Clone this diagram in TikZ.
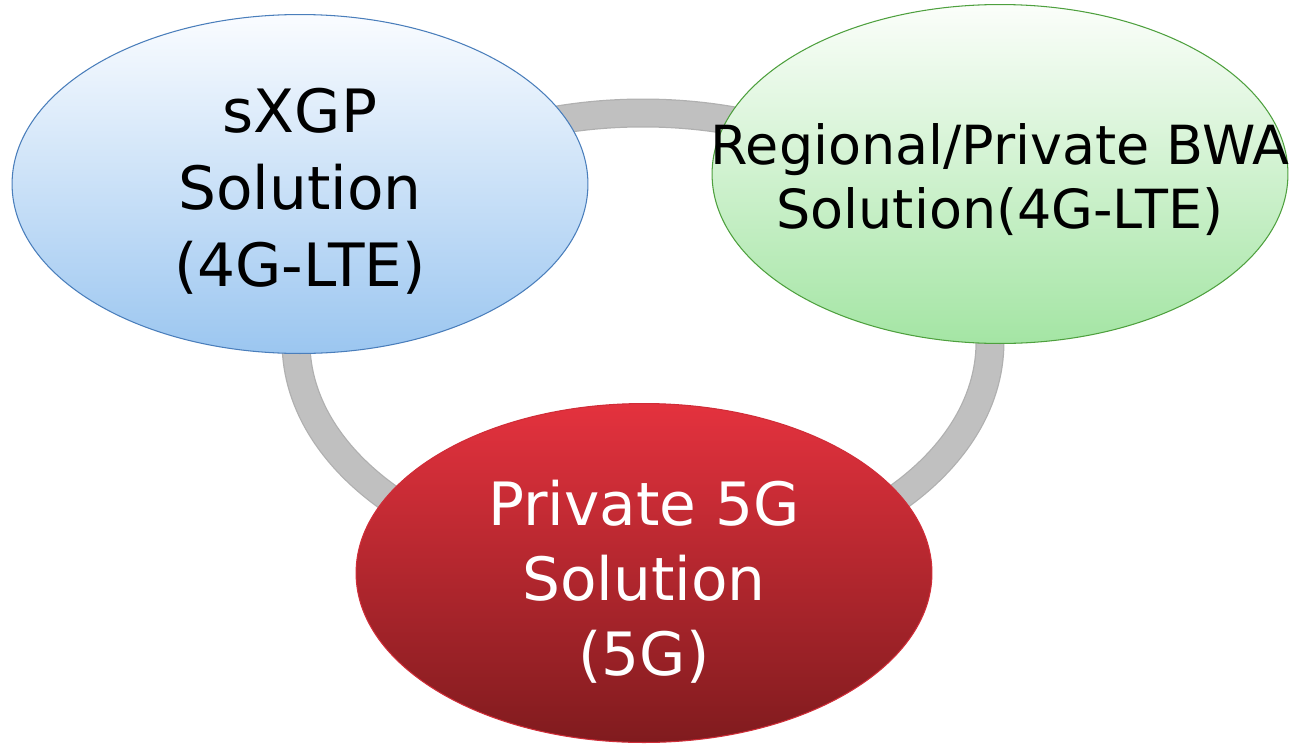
\documentclass[tikz,border=0pt]{standalone}
\usepackage{fontspec}
\setmainfont{DejaVu Sans}
\usetikzlibrary{shapes.geometric}
\definecolor{ringedge}{RGB}{176,176,176}
\definecolor{ringfill}{RGB}{192,192,192}
\definecolor{bluetop}{RGB}{250,252,255}
\definecolor{bluemid}{RGB}{214,232,250}
\definecolor{bluebot}{RGB}{155,198,240}
\definecolor{blueline}{RGB}{74,126,187}
\definecolor{greentop}{RGB}{251,254,250}
\definecolor{greenmid}{RGB}{214,244,212}
\definecolor{greenbot}{RGB}{164,229,164}
\definecolor{greenline}{RGB}{78,160,62}
\definecolor{redtop}{RGB}{228,50,62}
\definecolor{redbot}{RGB}{128,27,30}
\tikzset{
  solshape/.style={ellipse, inner sep=0pt, minimum width=11.52cm, minimum height=6.78cm, line width=0.6pt},
  soltext/.style={align=center, inner sep=0pt, font=\fontsize{34pt}{43.7pt}\selectfont},
}
\begin{document}
\begin{tikzpicture}[x=0.02cm, y=-0.02cm]
\useasboundingbox (0,0) rectangle (1297,744);
% ring behind the ellipses
\coordinate (ringc) at (643,342);
\draw[ringedge, line width=0.58cm] (ringc) ellipse [x radius=347, y radius=229];
\draw[ringfill, line width=0.53cm] (ringc) ellipse [x radius=347, y radius=229];
% ellipses
\node[solshape, draw=blueline, top color=bluetop, middle color=bluemid, bottom color=bluebot] (blue) at (300,184) {};
\node[solshape, draw=greenline, top color=greentop, middle color=greenmid, bottom color=greenbot] (green) at (1000,174) {};
\node[solshape, draw=redtop!80!redbot, top color=redtop, bottom color=redbot] (red) at (644,573) {};
% texts
\node[soltext] (bluetxt) at ([yshift=-0.14cm]blue.center) {sXGP\\Solution\\(4G-LTE)};
\node[soltext, font=\fontsize{30.7pt}{36.4pt}\selectfont] (greentxt) at ([yshift=-0.12cm]green.center) {Regional/Private BWA\\Solution(4G-LTE)};
\node[soltext, text=white, font=\fontsize{34pt}{42.7pt}\selectfont] (redtxt) at ([yshift=-0.18cm]red.center) {Private 5G\\Solution\\(5G)};
\end{tikzpicture}
\end{document}
